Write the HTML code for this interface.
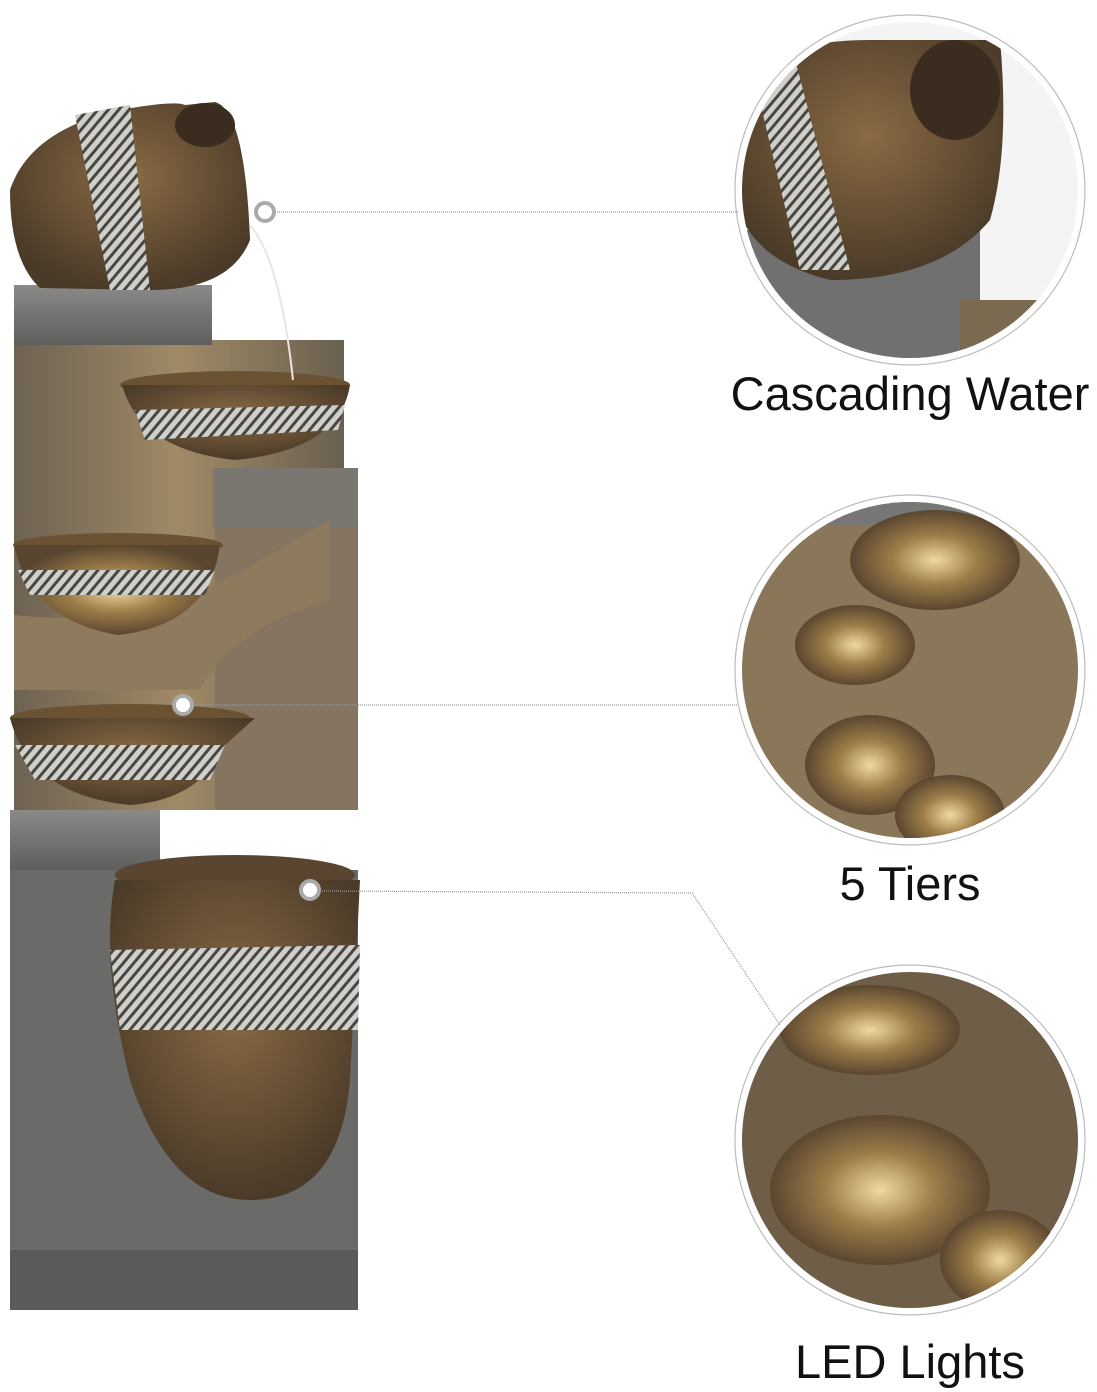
<!DOCTYPE html>
<html><head><meta charset="utf-8"><style>
html,body{margin:0;padding:0;background:#fff;}
body{width:1097px;height:1392px;position:relative;overflow:hidden;font-family:"Liberation Sans",sans-serif;}
.lbl{position:absolute;left:700px;width:420px;text-align:center;font-size:47px;color:#111;}
</style></head><body>
<svg width="1097" height="1392" style="position:absolute;left:0;top:0">
<defs>
<linearGradient id="stone" x1="0" y1="0" x2="1" y2="0"><stop offset="0" stop-color="#6e6252"/><stop offset=".5" stop-color="#a08a66"/><stop offset="1" stop-color="#6a604f"/></linearGradient>
<linearGradient id="gray" x1="0" y1="0" x2="0" y2="1"><stop offset="0" stop-color="#8a8a88"/><stop offset="1" stop-color="#5e5e5c"/></linearGradient>
<radialGradient id="pot" cx=".5" cy=".4" r=".6"><stop offset="0" stop-color="#8a6a44"/><stop offset="1" stop-color="#4a3a28"/></radialGradient>
<radialGradient id="glow" cx=".5" cy=".5" r=".5"><stop offset="0" stop-color="#f0d9a0"/><stop offset=".5" stop-color="#9c7c48"/><stop offset="1" stop-color="#5a4630"/></radialGradient>
<pattern id="hatch" width="8" height="8" patternUnits="userSpaceOnUse" patternTransform="rotate(40)"><rect width="8" height="8" fill="#cfcfcc"/><rect width="3" height="8" fill="#4a4640"/></pattern>
<clipPath id="c1"><circle cx="910" cy="190" r="168"/></clipPath>
<clipPath id="c2"><circle cx="910" cy="670" r="168"/></clipPath>
<clipPath id="c3"><circle cx="910" cy="1140" r="168"/></clipPath>
</defs>
<rect x="14" y="340" width="330" height="470" fill="url(#stone)"/>
<rect x="215" y="470" width="143" height="340" fill="#857560"/>
<rect x="213" y="468" width="145" height="60" fill="#7a7670"/>
<path d="M14 615 Q150 630 260 560 L330 520 L330 600 Q230 630 200 690 L14 690 Z" fill="#8e7a5c"/>
<rect x="10" y="810" width="150" height="60" fill="url(#gray)"/>
<rect x="10" y="870" width="348" height="440" fill="#6a6a68"/>
<rect x="10" y="1250" width="348" height="60" fill="#5a5a58"/>
<rect x="14" y="285" width="198" height="60" fill="url(#gray)"/>
<ellipse cx="235" cy="385" rx="115" ry="14" fill="#6b5232"/>
<path d="M122 385 L350 385 Q340 450 235 460 Q140 450 122 385Z" fill="url(#pot)"/>
<path d="M135 410 L345 405 L338 430 L145 440Z" fill="url(#hatch)"/>
<ellipse cx="118" cy="545" rx="105" ry="12" fill="#6b5232"/>
<path d="M14 545 L220 545 Q210 625 118 635 Q30 620 14 545Z" fill="url(#glow)"/>
<path d="M18 570 L215 570 L205 595 L30 595Z" fill="url(#hatch)"/>
<ellipse cx="130" cy="718" rx="120" ry="14" fill="#6b5232"/>
<path d="M10 718 L255 718 L225 745 Q200 800 130 805 Q30 795 10 718Z" fill="url(#pot)"/>
<path d="M15 745 L225 745 L210 780 L35 780Z" fill="url(#hatch)"/>
<ellipse cx="235" cy="875" rx="120" ry="20" fill="#5a4630"/>
<path d="M115 880 Q100 960 130 1080 Q170 1200 250 1200 Q340 1200 350 1080 L360 880Z" fill="url(#pot)"/>
<path d="M110 950 L360 945 L358 1030 L120 1030Z" fill="url(#hatch)"/>
<path d="M10 190 Q30 130 120 110 Q175 100 185 105 L215 102 Q245 110 250 240 Q230 290 150 290 L40 288 Q10 260 10 190Z" fill="url(#pot)"/>
<path d="M75 115 L130 105 L150 290 L110 290Z" fill="url(#hatch)"/>
<ellipse cx="205" cy="125" rx="30" ry="22" fill="#3a2c1e"/>
<path d="M250 225 Q280 260 293 380" stroke="#e6e6e6" stroke-width="2" fill="none"/>
<g fill="none" stroke="#999" stroke-width="1.2" stroke-dasharray="1 1">
<line x1="275" y1="212" x2="738" y2="212"/>
<line x1="192" y1="705" x2="738" y2="705"/>
<polyline points="320,891 692,893 780,1025"/>
</g>
<circle cx="265" cy="212" r="9" fill="#fff" stroke="#aaa" stroke-width="4"/>
<circle cx="183" cy="705" r="9" fill="#fff" stroke="#aaa" stroke-width="4"/>
<circle cx="310" cy="890" r="9" fill="#fff" stroke="#aaa" stroke-width="4"/>
<circle cx="910" cy="190" r="175" fill="none" stroke="#bbb" stroke-width="1.2"/>
<g clip-path="url(#c1)"><rect x="735" y="15" width="350" height="350" fill="#f4f4f4"/>
<rect x="740" y="230" width="240" height="140" fill="#707070"/>
<rect x="960" y="300" width="80" height="60" fill="#7a6a50"/>
<path d="M735 100 Q760 40 870 40 L1000 40 Q1010 150 990 220 Q940 280 830 280 Q750 260 735 200Z" fill="url(#pot)"/>
<ellipse cx="955" cy="90" rx="45" ry="50" fill="#3a2c1e"/>
<path d="M750 60 L790 40 L850 270 L800 270Z" fill="url(#hatch)"/></g>
<circle cx="910" cy="670" r="175" fill="none" stroke="#bbb" stroke-width="1.2"/>
<g clip-path="url(#c2)"><rect x="735" y="495" width="350" height="350" fill="#8a7658"/>
<rect x="735" y="495" width="350" height="30" fill="#777"/>
<ellipse cx="935" cy="560" rx="85" ry="50" fill="url(#glow)"/>
<ellipse cx="855" cy="645" rx="60" ry="40" fill="url(#glow)"/>
<ellipse cx="870" cy="765" rx="65" ry="50" fill="url(#glow)"/>
<ellipse cx="950" cy="815" rx="55" ry="40" fill="url(#glow)"/></g>
<circle cx="910" cy="1140" r="175" fill="none" stroke="#bbb" stroke-width="1.2"/>
<g clip-path="url(#c3)"><rect x="735" y="965" width="350" height="350" fill="#6e5e48"/>
<ellipse cx="870" cy="1030" rx="90" ry="45" fill="url(#glow)"/>
<ellipse cx="880" cy="1190" rx="110" ry="75" fill="url(#glow)"/>
<ellipse cx="1000" cy="1260" rx="60" ry="50" fill="url(#glow)"/></g>
</svg>
<div class="lbl" style="top:366px">Cascading Water</div>
<div class="lbl" style="top:856px">5 Tiers</div>
<div class="lbl" style="top:1334px">LED Lights</div>
</body></html>
